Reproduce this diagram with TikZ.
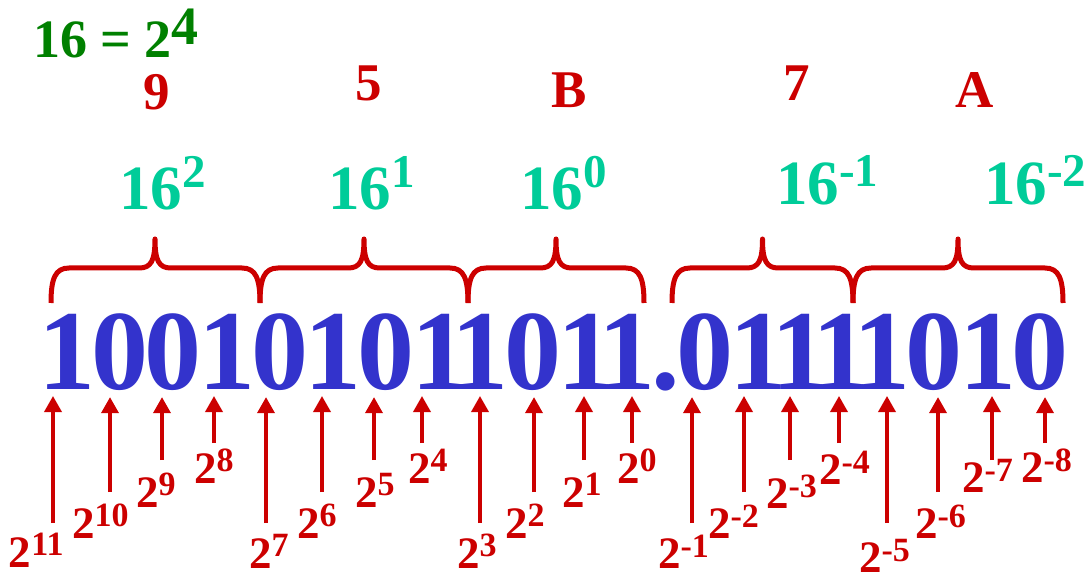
\documentclass[tikz,border=0pt]{standalone}
\usepackage{fontspec}
\setmainfont{Liberation Serif}
\usetikzlibrary{arrows.meta}
\definecolor{dblue}{RGB}{51,51,204}
\definecolor{dred}{RGB}{204,0,0}
\definecolor{tealg}{RGB}{0,204,153}
\definecolor{dgreen}{RGB}{0,128,0}
\newcommand{\sz}[1]{\fontsize{#1}{#1}\selectfont}
\newcommand{\pwr}[5]{{\sz{#3}#1}\raisebox{#5pt}{\sz{#4}#2}}
\newcommand{\lab}[2]{\pwr{2}{#1}{45}{34}{#2}}
\newcommand{\sixt}[2]{\pwr{16}{#1}{63}{47}{#2}}
\newcommand{\brc}[3]{\draw[bracestyle] (#1,303) .. controls (#1,279) and (#1+4,268) .. (#1+18,268) -- (#2-16,268) .. controls (#2-4,268) and (#2,261) .. (#2,239) .. controls (#2,261) and (#2+4,268) .. (#2+16,268) -- (#3-18,268) .. controls (#3-4,268) and (#3,279) .. (#3,303);}
\begin{document}
\begin{tikzpicture}[x=1pt,y=-1pt,
  every node/.style={inner sep=0pt, outer sep=0pt},
  digit/.style={text=dblue, font=\bfseries\sz{114}, anchor=base},
  hexl/.style={text=dred, font=\bfseries\sz{53}, anchor=base},
  sixl/.style={text=tealg, font=\bfseries, anchor=base west},
  lbl/.style={text=dred, font=\bfseries, anchor=base west},
  arr/.style={draw=dred, line width=3.5pt, -{Triangle[length=16pt,width=17pt]}},
  bracestyle/.style={draw=dred, line width=5pt, line join=round}]
\useasboundingbox (0,0) rectangle (1092,577);

% title
\node[text=dgreen, font=\bfseries\sz{54}, anchor=base west] (title) at (33,58) {16 = 2\raisebox{13pt}{4}};

% hex digits
\node[hexl] (h1) at (157,110) {9};
\node[hexl] (h2) at (369,101) {5};
\node[hexl] (h3) at (569,108) {B};
\node[hexl] (h4) at (797,101) {7};
\node[hexl] (h5) at (975,108) {A};

% powers of 16
\node[sixl] (s1) at (119,210) {\sixt{2}{22}};
\node[sixl] (s2) at (328,210) {\sixt{1}{22}};
\node[sixl] (s3) at (520,210) {\sixt{0}{22}};
\node[sixl] (s4) at (776,205) {\sixt{-1}{18}};
\node[sixl] (s5) at (984,205) {\sixt{-2}{18}};

% braces
\brc{51}{155}{260}
\brc{260}{364}{468}
\brc{468}{556}{644}
\brc{672}{762.5}{853}
\brc{853}{958}{1063}

% binary digits
\foreach \i/\x/\d in {1/67/1,2/120/0,3/173/0,4/226.5/1,5/279.5/0,6/332.5/1,7/385.5/0,8/439.5/1,9/480/1,10/533/0,11/585.5/1,12/626.5/1,13/705/0,14/758/1,15/799.5/1,16/841/1,17/881.5/1,18/934/0,19/987.5/1,20/1039.5/0}
  \node[digit] (d\i) at (\x,389) {\d};
\node[digit] (dot) at (665.5,389) {.};

% arrows
\foreach \i/\x/\b in {1/53/523,2/110/492,3/162/460,4/214/443,5/266/523,6/322/492,7/374/460,8/422/443,9/480/523,10/534/492,11/584/460,12/632/443,13/692/523,14/744/492,15/790/460,16/839/443,17/887/523,18/938/492,19/992/460,20/1045/443}
{
  \coordinate (a\i) at (\x,\b);
  \draw[arr] (a\i) -- ([yshift=-7pt]a\i |- d\i.south);
}

% labels
\node[lbl] (l1) at (9,567) {\lab{11}{12}};
\node[lbl] (l2) at (72,538) {\lab{10}{12}};
\node[lbl] (l3) at (136,507) {\lab{9}{12}};
\node[lbl] (l4) at (194,483) {\lab{8}{12}};
\node[lbl] (l5) at (249,568) {\lab{7}{12}};
\node[lbl] (l6) at (297,538) {\lab{6}{12}};
\node[lbl] (l7) at (355,507) {\lab{5}{12}};
\node[lbl] (l8) at (408,483) {\lab{4}{12}};
\node[lbl] (l9) at (457,568) {\lab{3}{12}};
\node[lbl] (l10) at (505,538) {\lab{2}{12}};
\node[lbl] (l11) at (562,507) {\lab{1}{12}};
\node[lbl] (l12) at (617,483) {\lab{0}{12}};
\node[lbl] (l13) at (658,568) {\lab{-1}{11}};
\node[lbl] (l14) at (708,538) {\lab{-2}{11}};
\node[lbl] (l15) at (766,508) {\lab{-3}{11}};
\node[lbl] (l16) at (819,484) {\lab{-4}{11}};
\node[lbl] (l17) at (859,572) {\lab{-5}{11}};
\node[lbl] (l18) at (915,538) {\lab{-6}{11}};
\node[lbl] (l19) at (962,492) {\lab{-7}{11}};
\node[lbl] (l20) at (1021,482) {\lab{-8}{11}};
\end{tikzpicture}
\end{document}
